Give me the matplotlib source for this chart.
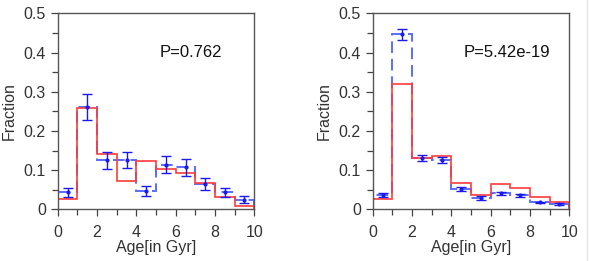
import numpy as np
import matplotlib

matplotlib.use("Agg")
import matplotlib.pyplot as plt
from matplotlib.ticker import MultipleLocator

plt.rcParams["font.family"] = ["Liberation Sans", "DejaVu Sans"]

edges = np.arange(0, 11, 1)
centers = edges[:-1] + 0.5

# left panel
obs_left = [0.043, 0.261, 0.125, 0.125, 0.047, 0.114, 0.107, 0.064, 0.043, 0.025]
err_left = [0.012, 0.032, 0.021, 0.020, 0.013, 0.021, 0.021, 0.015, 0.012, 0.010]
model_left = [0.026, 0.258, 0.140, 0.073, 0.122, 0.102, 0.093, 0.067, 0.031, 0.008]
p_left = "P=0.762"

# right panel
obs_right = [0.036, 0.447, 0.130, 0.125, 0.052, 0.029, 0.041, 0.036, 0.018, 0.014]
err_right = [0.005, 0.014, 0.008, 0.008, 0.004, 0.005, 0.004, 0.004, 0.001, 0.003]
model_right = [0.026, 0.320, 0.132, 0.136, 0.068, 0.036, 0.064, 0.055, 0.031, 0.018]
p_right = "P=5.42e-19"

yticks = [0, 0.1, 0.2, 0.3, 0.4, 0.5]
ytick_labels = ["0", "0.1", "0.2", "0.3", "0.4", "0.5"]

fig = plt.figure(figsize=(5.89, 2.61), dpi=100)
ax_l = fig.add_axes([0.098, 0.198, 0.3338, 0.751])
ax_r = fig.add_axes([0.6328, 0.198, 0.3338, 0.751])

for ax, obs, err, model, ptxt, px in [
    (ax_l, obs_left, err_left, model_left, p_left, 5.2),
    (ax_r, obs_right, err_right, model_right, p_right, 4.6),
]:
    ax.stairs(obs, edges, color="#5a6cff", lw=1.4, ls=(0, (6, 3)))
    ax.stairs(model, edges, color="#ff3b3b", lw=1.2)
    ax.errorbar(centers, obs, yerr=err, fmt="o", ms=2, color="#1a1aee",
                ecolor="#1a1aee", elinewidth=1.0, capsize=3.5, capthick=1.0)
    ax.text(px, 0.40, ptxt, fontsize=12, va="center", ha="left", color="#111111")
    ax.set_xlim(0, 10)
    ax.set_ylim(0, 0.5)
    ax.xaxis.set_major_locator(MultipleLocator(2))
    ax.xaxis.set_minor_locator(MultipleLocator(1))
    ax.yaxis.set_minor_locator(MultipleLocator(0.05))
    ax.set_yticks(yticks)
    ax.set_yticklabels(ytick_labels)
    ax.tick_params(which="both", direction="out", top=False, right=False,
                   color="#444444", labelcolor="#333333", labelsize=11.5)
    ax.tick_params(which="major", length=5, width=0.9)
    ax.tick_params(which="minor", length=4, width=0.9)
    ax.tick_params(axis="x", which="major", pad=6)
    for s in ax.spines.values():
        s.set_color("#555555")
        s.set_linewidth(1.0)
    ax.set_xlabel("Age[in Gyr]", fontsize=11.5, color="#333333", labelpad=0)
    ax.set_ylabel("Fraction", fontsize=11.5, color="#333333", labelpad=5)

fig.add_artist(plt.Line2D([586.5 / 589, 586.5 / 589], [0, 1], color="#e6e6e6", lw=1))
fig.savefig("out.png")
